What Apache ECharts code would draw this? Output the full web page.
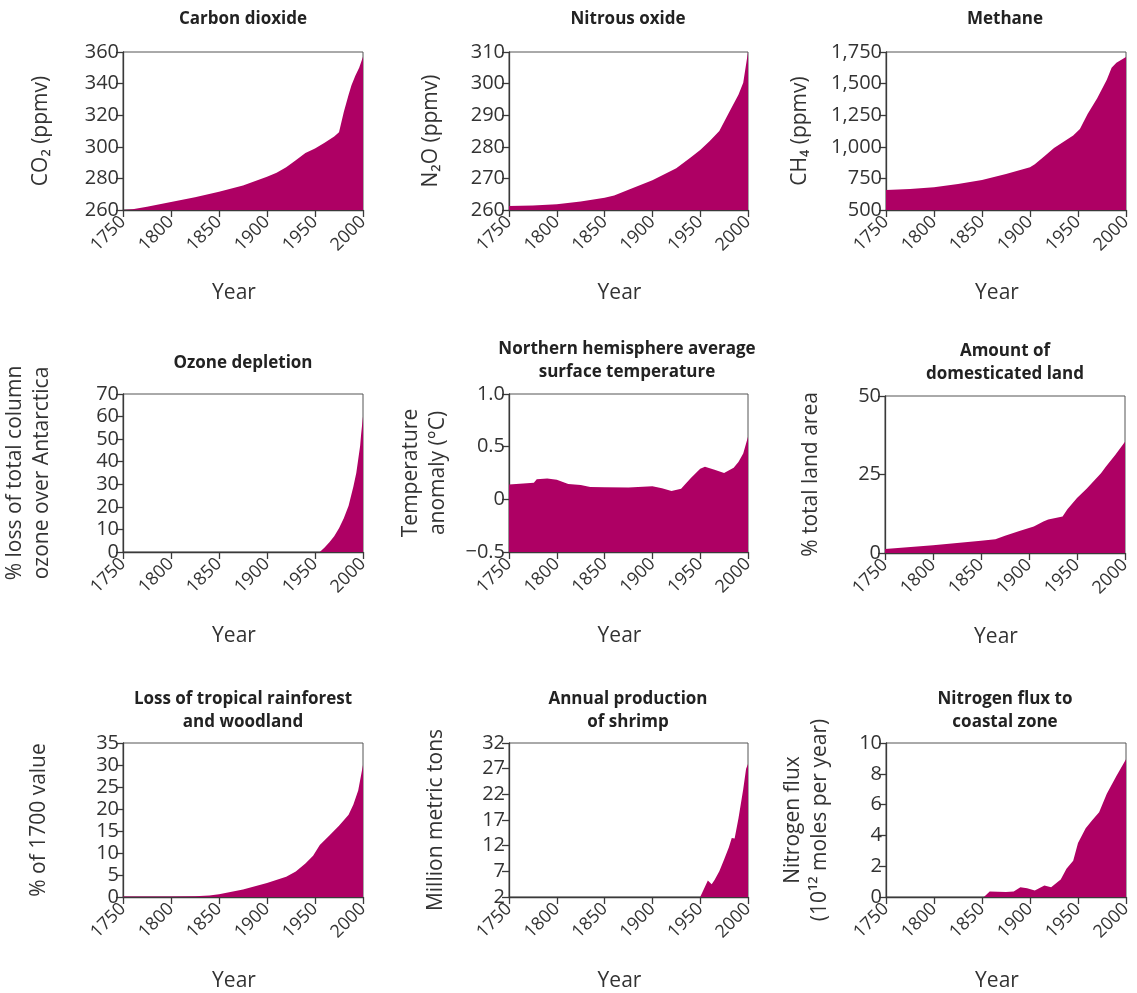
<!DOCTYPE html>
<html><head><meta charset="utf-8">
<script src="https://cdn.jsdelivr.net/npm/echarts@6/dist/echarts.min.js"></script>
<style>html,body{margin:0;padding:0;background:#fff}#c{width:1137px;height:993px}</style>
</head><body><div id="c"></div>
<script>
// ---- data (year, value) ----
const xTickYears = [1750, 1800, 1850, 1900, 1950, 2000];
const co2 = [[1750,260],[1760,260.5],[1775,262],[1800,265],[1825,268],[1850,271.5],[1875,275.5],[1900,281],[1910,283.5],[1920,287],[1930,291.5],[1940,296],[1950,299],[1960,302.5],[1970,306.5],[1975,309.2],[1980,322],[1985,333],[1988,339],[1992,345],[1996,350],[2000,357]];
const n2o = [[1750,261.3],[1775,261.4],[1800,261.8],[1825,262.7],[1850,263.9],[1860,264.6],[1875,266.4],[1900,269.4],[1925,273.2],[1940,276.6],[1950,279],[1960,281.8],[1970,285],[1980,290.8],[1990,296.5],[1995,300.3],[2000,310]];
const ch4 = [[1750,658],[1775,667],[1800,680],[1825,705],[1850,738],[1875,785],[1900,838],[1905,862],[1915,925],[1925,990],[1935,1040],[1945,1090],[1952,1140],[1960,1260],[1970,1385],[1980,1530],[1985,1625],[1990,1665],[2000,1710]];
const ozone = [[1750,0],[1955,0],[1960,2],[1965,4.3],[1970,7],[1975,10.5],[1980,15],[1985,20.5],[1990,29],[1993,35],[1995,41],[1997,47],[1998,52],[1999,56],[2000,60]];
const temperature = [[1750,0.14],[1765,0.15],[1776,0.157],[1779,0.19],[1790,0.198],[1800,0.185],[1812,0.145],[1825,0.135],[1835,0.118],[1850,0.115],[1875,0.113],[1900,0.125],[1910,0.105],[1920,0.08],[1930,0.10],[1940,0.20],[1950,0.29],[1955,0.31],[1965,0.28],[1975,0.25],[1985,0.30],[1990,0.355],[1995,0.435],[2000,0.595]];
const land = [[1750,1.3],[1800,2.5],[1850,3.9],[1865,4.4],[1875,5.5],[1890,7],[1905,8.4],[1915,10],[1920,10.7],[1935,11.6],[1940,13.9],[1950,17.5],[1960,20.5],[1975,25.4],[1980,27.5],[1990,31.3],[2000,35.4]];
const forest = [[1750,0.1],[1800,0.1],[1825,0.15],[1840,0.35],[1850,0.6],[1875,1.7],[1900,3.2],[1920,4.6],[1930,5.8],[1940,7.6],[1948,9.4],[1955,11.8],[1965,14],[1975,16.2],[1985,18.7],[1990,21],[1995,24.2],[2000,30]];
const shrimp = [[1750,2],[1950,2],[1958,5.2],[1962,4.5],[1965,5.3],[1970,7],[1975,9.3],[1980,11.7],[1983,13.5],[1986,13.4],[1990,17.3],[1995,23],[1998,27],[2000,27.9]];
const nitrogen = [[1750,0],[1852,0],[1858,0.36],[1875,0.32],[1883,0.36],[1890,0.63],[1897,0.57],[1905,0.42],[1915,0.74],[1922,0.63],[1932,1.14],[1938,1.84],[1945,2.36],[1950,3.5],[1958,4.47],[1965,5.0],[1972,5.5],[1980,6.7],[1990,7.85],[2000,8.95]];
const shrimpTicks = [2, 7, 12, 17, 22, 27, 32];

// ---- panels ----
const panels = [
  {title:'Carbon dioxide', yName:'CO\u2082 (ppmv)', data:co2, min:260, max:360, interval:20, g:[123,52,240,158], tx:238, ty:3, nameGap:68, xGap:73},
  {title:'Nitrous oxide', yName:'N\u2082O (ppmv)', data:n2o, min:260, max:310, interval:10, g:[509,52,239,158], tx:623, ty:3, nameGap:64, xGap:73},
  {title:'Methane', yName:'CH\u2084 (ppmv)', data:ch4, min:500, max:1750, interval:250, g:[886,52,240,158], tx:1000, ty:3, nameGap:72, xGap:73},
  {title:'Ozone depletion', yName:'% loss of total column\nozone over Antarctica', data:ozone, min:0, max:70, interval:10, g:[123,394,240,158], tx:238, ty:347, nameGap:67, xGap:74},
  {title:'Northern hemisphere average\nsurface temperature', yName:'Temperature\nanomaly (\u00b0C)', data:temperature, min:-0.5, max:1.0, interval:0.5, g:[509,394,239,158], tx:622, ty:333, nameGap:57, xGap:74,
    fmt:v => v === 0 ? '0' : v.toFixed(1).replace('-', '\u2212')},
  {title:'Amount of\ndomesticated land', yName:'% total land area', data:land, min:0, max:50, interval:25, g:[885,396,240,157], tx:1000, ty:335, nameGap:60, xGap:74},
  {title:'Loss of tropical rainforest\nand woodland', yName:'% of 1700 value', data:forest, min:0, max:35, interval:5, g:[123,743,240,158], tx:238, ty:683, nameGap:70, xGap:74},
  {title:'Annual production\nof shrimp', yName:'Million metric tons', data:shrimp, min:2, max:32, custom:shrimpTicks, g:[509,743,239,158], tx:623, ty:683, nameGap:59, xGap:74},
  {title:'Nitrogen flux to\ncoastal zone', yName:'Nitrogen flux\n(10\u00b9\u00b2 moles per year)', data:nitrogen, min:0, max:10, interval:2, g:[886,743,240,158], tx:1000, ty:683, nameGap:52, xGap:74}
];

const FONT = '"Open Sans", "Noto Sans", sans-serif';
const TXT = '#333';
const AX = '#3a3a3a';
const FILL = '#ae0064';

const option = {
  animation: false,
  backgroundColor: '#fff',
  textStyle: {fontFamily: FONT},
  title: panels.map(p => ({
    text: p.title, left: p.tx, top: p.ty, textAlign: 'center',
    textStyle: {fontFamily: FONT, fontWeight: 'bold', fontSize: 17, color: '#222', lineHeight: 23}
  })),
  grid: panels.map(p => ({left: p.g[0], top: p.g[1], width: p.g[2], height: p.g[3], show: true, borderColor: '#555', borderWidth: 1, backgroundColor: 'transparent', containLabel: false})),
  xAxis: panels.map((p, i) => ({
    type: 'value', gridIndex: i, min: 1750, max: 2000, interval: 50,
    name: 'Year', nameLocation: 'middle', nameGap: p.xGap,
    nameTextStyle: {fontFamily: FONT, fontSize: 21, color: TXT, padding: [0, 18, 0, 0]},
    axisLine: {show: true, onZero: false, lineStyle: {color: AX, width: 1.3}},
    axisTick: {show: true, length: 7, lineStyle: {color: AX, width: 1.3}},
    axisLabel: {rotate: 45, margin: 9, fontFamily: FONT, fontSize: 18, color: TXT, showMinLabel: true, showMaxLabel: true, formatter: v => String(v)},
    splitLine: {show: false}
  })),
  yAxis: panels.map((p, i) => {
    const y = {
      type: 'value', gridIndex: i, min: p.min, max: p.max,
      name: p.yName, nameLocation: 'middle', nameGap: p.nameGap, nameRotate: 90,
      nameTextStyle: {fontFamily: FONT, fontSize: 21, color: TXT, lineHeight: 27},
      axisLine: {show: true, onZero: false, lineStyle: {color: AX, width: 1.3}},
      axisTick: {show: true, length: 7, lineStyle: {color: AX, width: 1.3}},
      axisLabel: {margin: 4, fontFamily: FONT, fontSize: 20, color: TXT, showMinLabel: true, showMaxLabel: true},
      splitLine: {show: false}
    };
    if (p.custom) {
      y.axisLabel.customValues = p.custom;
      y.axisTick.customValues = p.custom;
      y.interval = 5;
    } else {
      y.interval = p.interval;
    }
    if (p.fmt) y.axisLabel.formatter = p.fmt;
    else y.axisLabel.formatter = v => v.toLocaleString('en-US');
    return y;
  }),
  series: panels.map((p, i) => ({
    type: 'line', xAxisIndex: i, yAxisIndex: i, data: p.data,
    showSymbol: false, symbol: 'none', smooth: false,
    lineStyle: {width: 0, color: FILL, opacity: 0},
    areaStyle: {color: FILL, opacity: 1, origin: p.min},
    z: 1
  }))
};

const chart = echarts.init(document.getElementById('c'), null, {renderer: 'canvas'});
chart.setOption(option);
</script>
</body></html>
